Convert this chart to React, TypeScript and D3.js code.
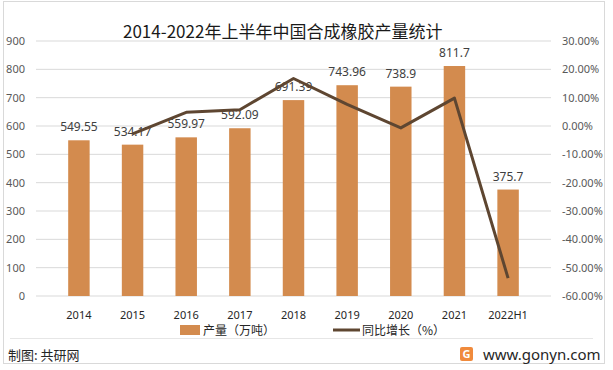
import * as d3 from "d3";

const categories = ["2014", "2015", "2016", "2017", "2018", "2019", "2020", "2021", "2022H1"];
const output = [549.55, 534.17, 559.97, 592.09, 691.39, 743.96, 738.9, 811.7, 375.7];
// growth % (2014 has none)
const growth = [null, -2.8, 4.83, 5.74, 16.77, 7.6, -0.68, 9.85, -53.7];
const leftTicks = [0, 100, 200, 300, 400, 500, 600, 700, 800, 900];
const rightTicks = [-60, -50, -40, -30, -20, -10, 0, 10, 20, 30];

const W = 613;
const H = 370;
const font = "'Noto Sans', 'Noto Sans CJK SC', sans-serif";
const cjk = "'Noto Sans CJK SC', sans-serif";

export default function App() {
  const x = d3.scaleBand().domain(categories).range([36, 551]).padding(0.6);
  const yL = d3.scaleLinear().domain([0, 900]).range([296, 41]);
  const yR = d3.scaleLinear().domain([-60, 30]).range([296, 41]);

  const pts = categories
    .map((c, i) => ({ c, v: growth[i] }))
    .filter((d) => d.v !== null) as { c: string; v: number }[];

  const line = d3
    .line<{ c: string; v: number }>()
    .x((d) => (x(d.c) as number) + x.bandwidth() / 2)
    .y((d) => yR(d.v));

  return (
    <svg
      width={W}
      height={H}
      style={{ position: "absolute", left: 0, top: 0, background: "#fff" }}
    >
      <rect x={3.5} y={1.5} width={601} height={362} fill="#fff" stroke="#d9d9d9" />
      <text x={123} y={38} fontFamily={cjk} fontSize={17} fill="#1a1a1a">
        2014-2022年上半年中国合成橡胶产量统计
      </text>

      {leftTicks.map((t) => (
        <line key={t} x1={36} x2={551} y1={yL(t)} y2={yL(t)} stroke="#d9d9d9" strokeWidth={1} />
      ))}
      {leftTicks.map((t) => (
        <text key={t} x={25} y={yL(t) + 4} textAnchor="end" fontFamily={font} fontSize={11} fill="#595959">
          {t}
        </text>
      ))}
      {rightTicks.map((t) => (
        <text key={t} x={562} y={yR(t) + 4} fontFamily={font} fontSize={11} fill="#595959">
          {t.toFixed(2) + "%"}
        </text>
      ))}

      {categories.map((c, i) => (
        <rect
          key={c}
          x={x(c)}
          y={yL(output[i])}
          width={x.bandwidth()}
          height={yL(0) - yL(output[i])}
          fill="#D38B4E"
        />
      ))}
      {categories.map((c, i) => (
        <text
          key={c}
          x={(x(c) as number) + x.bandwidth() / 2}
          y={yL(output[i]) - 9}
          textAnchor="middle"
          fontFamily={font}
          fontSize={12}
          fill="#404040"
        >
          {output[i]}
        </text>
      ))}

      <path d={line(pts) || ""} fill="none" stroke="#5E4631" strokeWidth={3} strokeLinejoin="round" />

      {categories.map((c) => (
        <text
          key={c}
          x={(x(c) as number) + x.bandwidth() / 2}
          y={319}
          textAnchor="middle"
          fontFamily={font}
          fontSize={11}
          fill="#262626"
        >
          {c}
        </text>
      ))}

      {/* legend */}
      <rect x={180} y={325} width={20} height={10} fill="#D38B4E" />
      <text x={203} y={335} fontFamily={cjk} fontSize={12} fill="#262626">
        产量（万吨）
      </text>
      <line x1={333} x2={360} y1={330} y2={330} stroke="#5E4631" strokeWidth={3} />
      <text x={362} y={335} fontFamily={cjk} fontSize={12} fill="#262626">
        同比增长（%）
      </text>

      <line x1={10} x2={593} y1={338.5} y2={338.5} stroke="#e6e6e6" />
      <text x={8} y={360} fontFamily={cjk} fontSize={13} fill="#262626">
        制图: 共研网
      </text>
      <rect x={460} y={347} width={13} height={14} rx={2} fill="#F08A3C" />
      <text x={466.5} y={358} textAnchor="middle" fontFamily={font} fontSize={11} fontWeight="bold" fill="#fff">
        G
      </text>
      <text x={483} y={360} fontFamily={font} fontSize={15} fill="#262626">
        www.gonyn.com
      </text>
    </svg>
  );
}
